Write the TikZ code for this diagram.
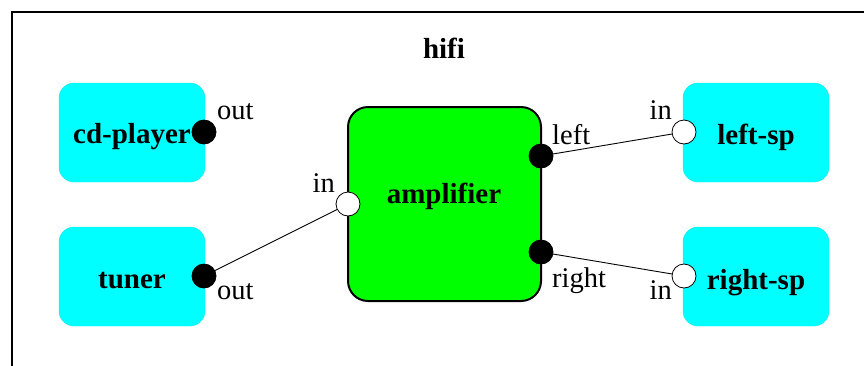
\documentclass[tikz,border=0pt]{standalone}
\usepackage{fontspec}
\setmainfont{Liberation Serif}
\definecolor{aqua}{RGB}{0,255,255}
\definecolor{lime}{RGB}{0,255,0}
\begin{document}
\begin{tikzpicture}[x=1pt,y=-1pt,
  every node/.style={font=\fontsize{28.5}{34}\selectfont},
  comp/.style={rectangle, rounded corners=15pt, fill=aqua, draw=aqua!80!gray,
    line width=0.4pt, minimum width=146pt, minimum height=99pt, inner sep=0pt},
  ampbox/.style={rectangle, rounded corners=20pt, fill=lime, draw=black,
    line width=2pt, minimum width=193pt, minimum height=194pt, inner sep=0pt},
  boxtext/.style={inner sep=0pt, anchor=base, font=\fontsize{29}{34}\selectfont\bfseries},
  portlbl/.style={inner sep=0pt},
  outport/.style={circle, fill=black, draw=black, line width=0.8pt,
    minimum size=24pt, inner sep=0pt},
  inport/.style={circle, fill=white, draw=black, line width=0.8pt,
    minimum size=24pt, inner sep=0pt},
  wire/.style={draw=black, line width=0.9pt}
]
\useasboundingbox (0,0) rectangle (864,365);
\clip (0,0) rectangle (864,365);

% enclosing frame of the system
\draw[line width=2pt] (12,400) -- (12,12) -- (900,12);
\node[boxtext] (hifi) at (444,58) {hifi};

% components
\node[comp] (cd) at (132,132.5) {};
\node[comp] (tuner) at (132,276.5) {};
\node[comp] (lsp) at (756,132.5) {};
\node[comp] (rsp) at (756,276.5) {};
\node[ampbox] (amp) at (444.5,204) {};

\node[boxtext] (cdtxt) at (132,143) {cd-player};
\node[boxtext] (tunertxt) at (132,288) {tuner};
\node[boxtext] (lsptxt) at (756,144) {left-sp};
\node[boxtext] (rsptxt) at (756,289) {right-sp};
\node[boxtext] (amptxt) at (444,203) {amplifier};

% ports
\node[outport] (cdout) at (204,132) {};
\node[outport] (tunout) at (204,276) {};
\node[inport] (ampin) at (348,204) {};
\node[outport] (ampl) at (541,156) {};
\node[outport] (ampr) at (541,252) {};
\node[inport] (lspin) at (684,132) {};
\node[inport] (rspin) at (684,276) {};

% port labels
\node[portlbl, anchor=base west] (l1) at (217,119) {out};
\node[portlbl, anchor=base west] (l2) at (217,299) {out};
\node[portlbl, anchor=base east] (l3) at (335,192) {in};
\node[portlbl, anchor=base west] (l4) at (552,144) {left};
\node[portlbl, anchor=base west] (l5) at (552,287) {right};
\node[portlbl, anchor=base east] (l6) at (672,119) {in};
\node[portlbl, anchor=base east] (l7) at (672,299) {in};

% connections
\draw[wire] (tunout) -- (ampin);
\draw[wire] (ampl) -- (lspin);
\draw[wire] (ampr) -- (rspin);
\end{tikzpicture}
\end{document}
